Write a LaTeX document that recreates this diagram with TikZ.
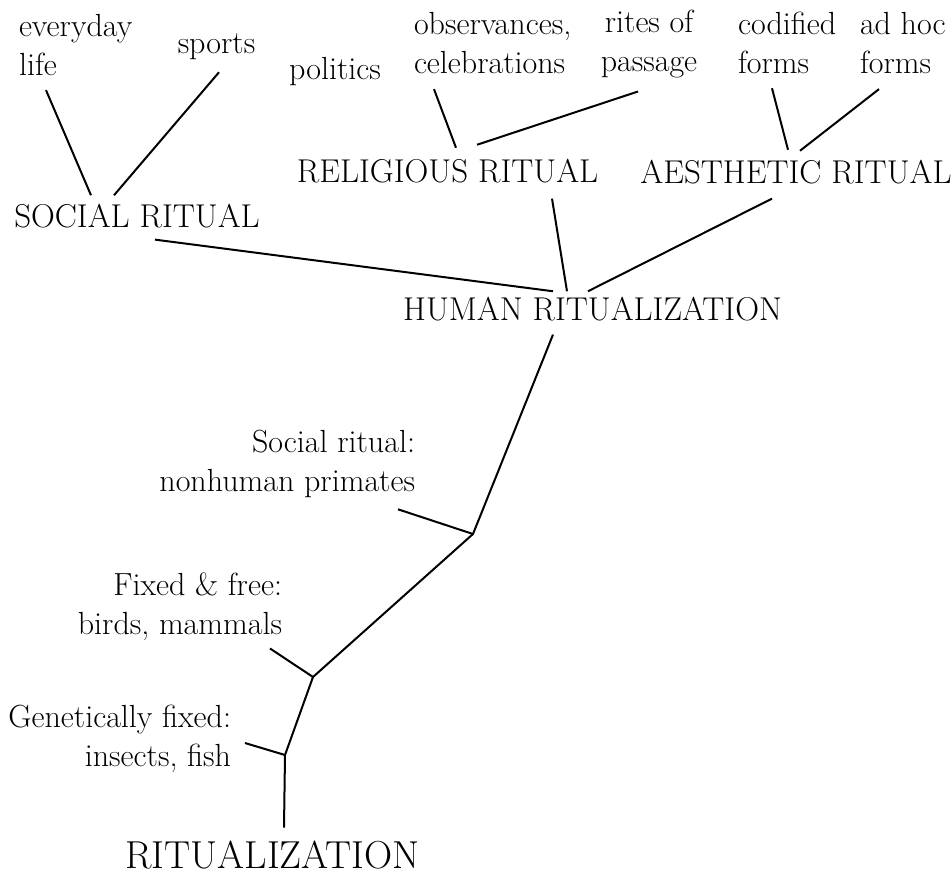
\documentclass[tikz,border=0pt]{standalone}
\usepackage{tikz}
\begin{document}
\begin{tikzpicture}[x=1pt, y=-1pt, line width=2pt]
\useasboundingbox (0,0) rectangle (952,874);
\tikzstyle{every node} = [inner sep=8pt, font=\fontsize{32}{39}\selectfont]
\tikzstyle{ritual} = [inner sep=10pt, font=\fontsize{33}{39}\selectfont]
\tikzstyle{rootlbl} = [inner sep=10pt, font=\fontsize{39}{45}\selectfont]
\node[align=left, anchor=west] (life) at (10,45.4) {everyday\\life};
\node (sports) at (216.5,46.3) {sports};
\node (pol) at (335,72) {politics};
\node[align=left, anchor=west] (obs) at (405,43.4) {observances,\\celebrations};
\node[align=center] (rites) at (649,44.5) {rites of\\passage};
\node[align=left, anchor=west] (cod) at (729,43.4) {codified\\forms};
\node[align=left, anchor=west] (adhoc) at (851,43.4) {ad hoc\\forms};
\node[ritual] (soc) at (137,215.7) {SOCIAL RITUAL};
\node[ritual] (rel) at (447.5,170.7) {RELIGIOUS RITUAL};
\node[ritual] (aes) at (796,171.7) {AESTHETIC RITUAL};
\node[ritual] (hum) at (592.5,308.7) {HUMAN RITUALIZATION};
\node[align=right, anchor=east] (prim) at (424,463.5) {Social ritual:\\nonhuman primates};
\node[align=right, anchor=east] (birds) at (291,606.5) {Fixed \& free:\\birds, mammals};
\node[align=right, anchor=east] (insects) at (240,738.5) {Genetically fixed:\\insects, fish};
\node[rootlbl] (root) at (272.5,854.7) {RITUALIZATION};
\coordinate (j1) at (473,534);
\coordinate (j2) at (313,677);
\coordinate (j3) at (285,755);
\draw ([xshift=36pt,yshift=-5pt]life.south west) -- ([xshift=-46pt,yshift=-2.5pt]soc.north);
\draw ([xshift=2.5pt,yshift=-4pt]sports.south) -- ([xshift=-23pt,yshift=-2.5pt]soc.north);
\draw ([xshift=29pt,yshift=-6pt]obs.south west) -- ([xshift=8.5pt]rel.north);
\draw ([xshift=-11pt,yshift=-4pt]rites.south) -- ([xshift=29.5pt,yshift=3pt]rel.north);
\draw ([xshift=43pt,yshift=-5pt]cod.south west) -- ([xshift=-8pt,yshift=-1pt]aes.north);
\draw ([xshift=28pt,yshift=-6pt]adhoc.south west) -- ([xshift=4pt,yshift=-2pt]aes.north);
\draw ([xshift=18pt,yshift=-1pt]soc.south) -- ([xshift=-39.5pt,yshift=-5.5pt]hum.north);
\draw ([xshift=104.5pt,yshift=-5pt]rel.south) -- ([xshift=-25.5pt,yshift=-5.5pt]hum.north);
\draw ([xshift=-24pt,yshift=-4pt]aes.south) -- ([xshift=-4.5pt,yshift=-5.5pt]hum.north);
\draw ([xshift=-39.5pt,yshift=-3pt]hum.south) -- (j1) -- (j2) -- (j3) -- ([xshift=11.5pt,yshift=2pt]root.north);
\draw ([xshift=-26pt,yshift=-3pt]prim.south east) -- (j1);
\draw ([xshift=-21pt,yshift=1pt]birds.south east) -- (j2);
\draw ([xshift=5pt,yshift=-4.5pt]insects.east) -- (j3);
\end{tikzpicture}
\end{document}
